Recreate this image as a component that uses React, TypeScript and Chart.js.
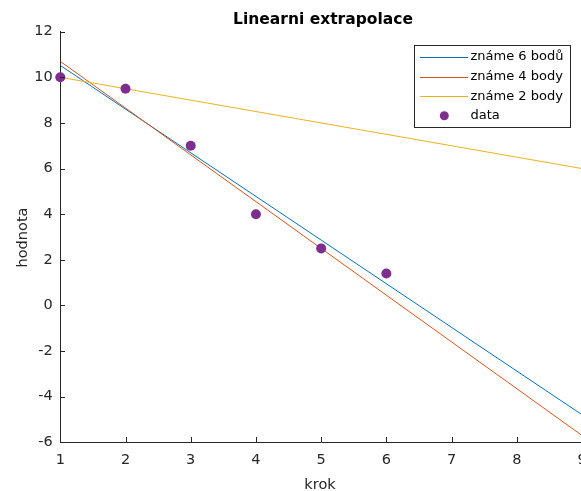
import React, { useEffect, useRef } from "react";
import { Chart, registerables } from "chart.js";

Chart.register(...registerables);

const xSteps = [1, 2, 3, 4, 5, 6];
const dataValues = [10, 9.5, 7, 4, 2.5, 1.4];
const fitX = [1, 9];
const fit6 = [10.52, -4.79];
const fit4 = [10.7, -5.7];
const fit2 = [10, 6];
const seriesLabels = ["známe 6 bodů", "známe 4 body", "známe 2 body", "data"];
const titleText = "Linearni extrapolace";
const xTitle = "krok";
const yTitle = "hodnota";

const BLUE = "#0072BD";
const ORANGE = "#D95319";
const YELLOW = "#EDB120";
const PURPLE = "#7E2F8E";
const AXIS = "#262626";
const FONT = "'DejaVu Sans', sans-serif";

const toPts = (xs: number[], ys: number[]) => xs.map((x, i) => ({ x, y: ys[i] }));

const decorPlugin = {
  id: "decor",
  afterDraw(chart: any) {
    const ctx = chart.ctx;
    const xs = chart.scales.x;
    const ys = chart.scales.y;
    const area = chart.chartArea;
    ctx.save();
    // inward ticks
    ctx.strokeStyle = AXIS;
    ctx.lineWidth = 1;
    ctx.beginPath();
    ys.ticks.forEach((t: any) => {
      const py = Math.round(ys.getPixelForValue(t.value)) + 0.5;
      ctx.moveTo(Math.round(area.left), py);
      ctx.lineTo(Math.round(area.left) + 5, py);
    });
    xs.ticks.forEach((t: any) => {
      const px = Math.round(xs.getPixelForValue(t.value)) + 0.5;
      ctx.moveTo(px, Math.round(area.bottom));
      ctx.lineTo(px, Math.round(area.bottom) - 5);
    });
    ctx.stroke();

    // title
    ctx.fillStyle = "#000";
    ctx.font = `bold 15.5px ${FONT}`;
    ctx.textAlign = "center";
    ctx.textBaseline = "alphabetic";
    ctx.fillText(titleText, 323, 23.5);

    // axis titles
    ctx.fillStyle = AXIS;
    ctx.font = `14.5px ${FONT}`;
    ctx.fillText(xTitle, 320, 488.5);
    ctx.save();
    ctx.translate(27, 237.5);
    ctx.rotate(-Math.PI / 2);
    ctx.fillText(yTitle, 0, 0);
    ctx.restore();

    // legend
    const bx = 414.5, by = 45.5, bw = 156, bh = 82;
    ctx.fillStyle = "#fff";
    ctx.fillRect(bx, by, bw, bh);
    ctx.strokeStyle = AXIS;
    ctx.lineWidth = 1;
    ctx.strokeRect(bx, by, bw, bh);
    const colors = [BLUE, ORANGE, YELLOW];
    const rows = [56.7, 76.5, 96.3, 115.8];
    ctx.font = `13px ${FONT}`;
    ctx.textAlign = "left";
    ctx.textBaseline = "middle";
    for (let i = 0; i < 4; i++) {
      const cy = rows[i];
      if (i < 3) {
        ctx.strokeStyle = colors[i];
        ctx.lineWidth = 1;
        ctx.beginPath();
        ctx.moveTo(420, Math.round(cy) + 0.5);
        ctx.lineTo(468, Math.round(cy) + 0.5);
        ctx.stroke();
      } else {
        ctx.fillStyle = PURPLE;
        ctx.beginPath();
        ctx.arc(444.3, cy, 4.5, 0, Math.PI * 2);
        ctx.fill();
      }
      ctx.fillStyle = "#000";
      ctx.fillText(seriesLabels[i], 470.5, cy);
    }
    ctx.restore();
  },
};

export default function App() {
  const ref = useRef<HTMLCanvasElement | null>(null);
  useEffect(() => {
    if (!ref.current) return;
    const chart = new Chart(ref.current, {
      type: "scatter",
      data: {
        datasets: [
          {
            label: seriesLabels[3],
            data: toPts(xSteps, dataValues),
            backgroundColor: PURPLE,
            borderColor: PURPLE,
            pointRadius: 5,
            pointBorderWidth: 0,
            showLine: false,
            clip: false as any,
            order: 0,
          },
          {
            label: seriesLabels[2],
            data: toPts(fitX, fit2),
            borderColor: YELLOW,
            borderWidth: 1,
            pointRadius: 0,
            showLine: true,
            order: 1,
          },
          {
            label: seriesLabels[1],
            data: toPts(fitX, fit4),
            borderColor: ORANGE,
            borderWidth: 1,
            pointRadius: 0,
            showLine: true,
            order: 2,
          },
          {
            label: seriesLabels[0],
            data: toPts(fitX, fit6),
            borderColor: BLUE,
            borderWidth: 1,
            pointRadius: 0,
            showLine: true,
            order: 3,
          },
        ],
      },
      options: {
        responsive: false,
        animation: false,
        devicePixelRatio: 1,
        layout: { padding: { left: 0, top: 31.7, right: 640 - 582, bottom: 0 } },
        plugins: { legend: { display: false }, title: { display: false }, tooltip: { enabled: false } },
        scales: {
          x: {
            type: "linear",
            min: 1,
            max: 9,
            ticks: { stepSize: 1, color: AXIS, font: { family: FONT, size: 14.5 }, padding: 9, maxRotation: 0 },
            grid: { display: false, drawTicks: false },
            border: { display: true, color: AXIS, width: 1 },
            afterFit: (s: any) => { s.height = 48.7; },
          },
          y: {
            type: "linear",
            min: -6,
            max: 12,
            ticks: { stepSize: 2, color: AXIS, font: { family: FONT, size: 14.5 }, padding: 7.5 },
            grid: { display: false, drawTicks: false },
            border: { display: true, color: AXIS, width: 1 },
            afterFit: (s: any) => { s.width = 60.3; },
          },
        },
      },
      plugins: [decorPlugin],
    });
    return () => chart.destroy();
  }, []);
  return (
    <div style={{ position: "fixed", left: 0, top: 0, width: 581, height: 491, overflow: "hidden", background: "#fff" }}>
      <canvas ref={ref} width={640} height={491} style={{ display: "block" }} />
    </div>
  );
}
